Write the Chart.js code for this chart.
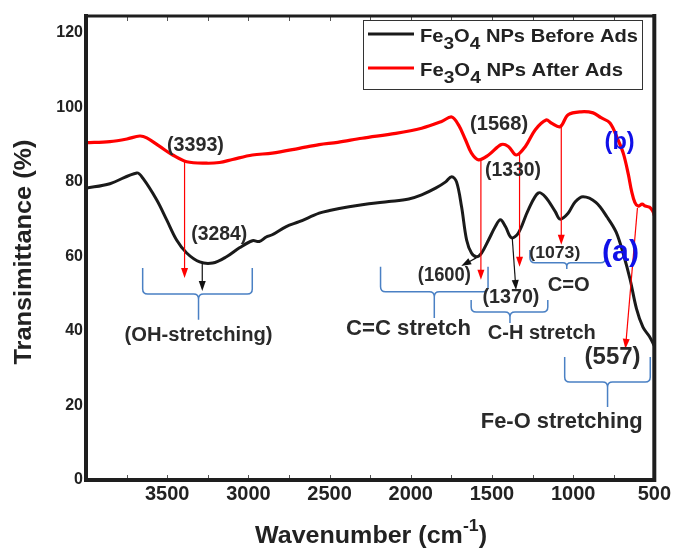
<!DOCTYPE html>
<html>
<head>
<meta charset="utf-8">
<script src="https://cdn.jsdelivr.net/npm/chart.js@4/dist/chart.umd.min.js"></script>
<style>
  html, body { margin: 0; padding: 0; background: #fff; }
  #wrap { width: 673px; height: 550px; }
</style>
</head>
<body>
<div id="wrap"><canvas id="ftir" width="673" height="550"></canvas></div>
<script>
// FTIR spectra of Fe3O4 nanoparticles before and after adsorption
const beforeWavenumber = [4000, 3853, 3687, 3650, 3565, 3503, 3442, 3380, 3300, 3220, 3135, 3055, 2975, 2933, 2890, 2853, 2767, 2687, 2564, 2500, 2380, 2258, 2135, 2012, 1933, 1847, 1785, 1748, 1718, 1687, 1656, 1626, 1595, 1564, 1521, 1479, 1448, 1417, 1380, 1337, 1276, 1215, 1172, 1110, 1080, 1031, 988, 939, 860, 790, 735, 690, 650, 610, 570, 530, 500];
const beforeT = [78.3, 79.5, 82.4, 81.0, 75.2, 69.8, 64.4, 60.9, 58.5, 58.2, 59.9, 62.3, 64.2, 64.0, 65.2, 65.8, 68.0, 69.3, 71.6, 72.3, 73.3, 74.1, 74.7, 75.4, 76.5, 78.3, 80.0, 81.4, 80.0, 73.3, 64.4, 60.9, 59.9, 60.9, 64.4, 68.0, 69.8, 68.0, 65.0, 66.3, 72.5, 77.0, 76.0, 72.0, 70.0, 71.6, 74.6, 76.0, 74.5, 70.5, 66.5, 60.5, 54.0, 46.0, 41.0, 38.5, 36.0];

const afterWavenumber = [4000, 3853, 3748, 3669, 3626, 3546, 3466, 3380, 3258, 3178, 3098, 2975, 2853, 2687, 2564, 2450, 2300, 2092, 1933, 1810, 1748, 1705, 1663, 1626, 1583, 1521, 1442, 1399, 1350, 1294, 1233, 1166, 1135, 1080, 1031, 951, 877, 828, 773, 724, 690, 660, 640, 620, 600, 575, 555, 530, 510, 500];
const afterT = [90.5, 90.8, 91.5, 92.3, 91.8, 89.5, 87.2, 85.4, 85.0, 85.2, 86.0, 87.2, 87.7, 89.0, 90.0, 90.6, 91.7, 93.0, 94.4, 96.2, 97.4, 95.2, 91.3, 87.7, 85.9, 87.2, 90.0, 89.5, 87.2, 89.5, 94.0, 96.6, 95.8, 94.8, 98.0, 98.8, 98.5, 97.2, 95.8, 91.3, 87.5, 82.0, 77.5, 74.5, 73.5, 74.0, 73.5, 73.2, 72.2, 71.0];

const xTickLabels = [3500, 3000, 2500, 2000, 1500, 1000, 500];
const yTickLabels = [0, 20, 40, 60, 80, 100, 120];

const seriesNames = ['Before Ads', 'After Ads'];

// peak markers: arrow from -> to, in (wavenumber, transmittance)
const peakArrows = [
  { from: [3393, 85.4], to: [3393, 54.2], color: '#ff0000' },
  { from: [3284, 58.2], to: [3284, 50.7], color: '#111111' },
  { from: [1597, 59.6], to: [1689, 57.4], color: '#111111' },
  { from: [1568, 85.9], to: [1568, 53.7], color: '#ff0000' },
  { from: [1330, 87.2], to: [1330, 57.2], color: '#ff0000' },
  { from: [1375, 65.0], to: [1352, 51.0], color: '#111111' },
  { from: [1073, 94.8], to: [1073, 63.1], color: '#ff0000' },
  { from: [604, 73.0], to: [678, 35.2], color: '#ff0000' }
];

// band groupings: left/right wavenumber, end height, bar height, tip height, centre
const bandBraces = [
  { left: 3651, right: 2976, centre: 3307, top: 56.9, bar: 49.9, tip: 43.0 },
  { left: 2186, right: 1524, centre: 1855, top: 57.2, bar: 50.5, tip: 43.5 },
  { left: 1628, right: 1156, centre: 1389, top: 48.3, bar: 45.1, tip: 42.1 },
  { left: 1266, right: 800, centre: 1039, top: 61.7, bar: 58.3, tip: 56.6 },
  { left: 1052, right: 525, centre: 788, top: 33.0, bar: 26.3, tip: 19.6 }
];

const peakLabels = [
  { text: '(3393)', at: [3326, 89.7], size: 21, width: 57 },
  { text: '(3284)', at: [3179, 66.0], size: 21, width: 56 },
  { text: '(1568)', at: [1456, 95.6], size: 21, width: 58 },
  { text: '(1330)', at: [1370, 83.2], size: 21, width: 56 },
  { text: '(1073)', at: [1113, 60.7], size: 17, width: 51 },
  { text: '(1600)', at: [1793, 54.8], size: 20, width: 53 },
  { text: '(1370)', at: [1383, 49.1], size: 21, width: 57 },
  { text: 'C=O', at: [1027, 52.3], size: 21, width: 42 },
  { text: 'C=C stretch', at: [2014, 40.5], size: 22, width: 125 },
  { text: 'C-H stretch', at: [1193, 39.2], size: 20, width: 108 },
  { text: '(557)', at: [757, 32.8], size: 24, width: 56 },
  { text: 'Fe-O stretching', at: [1070, 15.6], size: 22, width: 162 },
  { text: '(OH-stretching)', at: [3307, 38.9], size: 20, width: 148 },
  { text: '(b)', at: [714, 90.5], size: 24, width: 30, color: '#1010e8' },
  { text: '(a)', at: [708, 60.9], size: 30, width: 37, color: '#1010e8' }
];

const FONT = '"Liberation Sans", Arial, Helvetica, sans-serif';
const INK = '#222222';

function drawScaledText(ctx, s, x, y, size, color, targetW, align) {
  ctx.save();
  ctx.font = 'bold ' + size + 'px ' + FONT;
  const w = ctx.measureText(s).width;
  const sx = targetW ? targetW / w : 1;
  ctx.translate(x, y);
  ctx.scale(sx, 1);
  ctx.fillStyle = color || INK;
  ctx.textAlign = align || 'center';
  ctx.textBaseline = 'middle';
  ctx.fillText(s, 0, 0);
  ctx.restore();
}

// rich text: segments [{t, sub, sup}], drawn left-to-right from x at baseline y
function drawRich(ctx, segs, x, y, size, smallSize, targetW, shiftSub, shiftSup) {
  ctx.save();
  let natural = 0;
  segs.forEach(g => {
    ctx.font = 'bold ' + ((g.sub || g.sup) ? smallSize : size) + 'px ' + FONT;
    natural += ctx.measureText(g.t).width;
  });
  const sx = targetW ? targetW / natural : 1;
  ctx.translate(x, y);
  ctx.scale(sx, 1);
  ctx.fillStyle = INK;
  ctx.textBaseline = 'alphabetic';
  ctx.textAlign = 'left';
  let cx = 0;
  segs.forEach(g => {
    ctx.font = 'bold ' + ((g.sub || g.sup) ? smallSize : size) + 'px ' + FONT;
    const dy = g.sub ? shiftSub : (g.sup ? -shiftSup : 0);
    ctx.fillText(g.t, cx, dy);
    cx += ctx.measureText(g.t).width;
  });
  ctx.restore();
  return natural * sx;
}

function arrow(ctx, x1, y1, x2, y2, color) {
  const ang = Math.atan2(y2 - y1, x2 - x1);
  const len = 10, half = 3.5;
  ctx.save();
  ctx.strokeStyle = color;
  ctx.fillStyle = color;
  ctx.lineWidth = 1.2;
  ctx.beginPath();
  ctx.moveTo(x1, y1);
  ctx.lineTo(x2 - Math.cos(ang) * len * 0.8, y2 - Math.sin(ang) * len * 0.8);
  ctx.stroke();
  ctx.beginPath();
  ctx.moveTo(x2, y2);
  ctx.lineTo(x2 - Math.cos(ang) * len - Math.sin(ang) * half, y2 - Math.sin(ang) * len + Math.cos(ang) * half);
  ctx.lineTo(x2 - Math.cos(ang) * len + Math.sin(ang) * half, y2 - Math.sin(ang) * len - Math.cos(ang) * half);
  ctx.closePath();
  ctx.fill();
  ctx.restore();
}

function brace(ctx, xL, xR, xC, yTop, yBar, yTip) {
  const r = Math.min(5, (yBar - yTop) * 0.6);
  const rc = Math.min(5, (yTip - yBar) * 0.6);
  ctx.save();
  ctx.strokeStyle = '#4a80c4';
  ctx.lineWidth = 1.5;
  ctx.beginPath();
  ctx.moveTo(xL, yTop);
  ctx.lineTo(xL, yBar - r);
  ctx.quadraticCurveTo(xL, yBar, xL + r, yBar);
  ctx.lineTo(xC - rc, yBar);
  ctx.quadraticCurveTo(xC, yBar, xC, yBar + rc);
  ctx.lineTo(xC, yTip);
  ctx.moveTo(xC, yBar + rc);
  ctx.quadraticCurveTo(xC, yBar, xC + rc, yBar);
  ctx.lineTo(xR - r, yBar);
  ctx.quadraticCurveTo(xR, yBar, xR, yBar - r);
  ctx.lineTo(xR, yTop);
  ctx.stroke();
  ctx.restore();
}

const decorations = {
  id: 'ftirDecorations',
  afterDraw(chart) {
    const ctx = chart.ctx;
    const xs = chart.scales.x, ys = chart.scales.y;
    const a = chart.chartArea;
    const px = w => xs.getPixelForValue(w);
    const py = t => ys.getPixelForValue(t);

    // inward minor ticks along top and bottom
    ctx.save();
    ctx.strokeStyle = '#555';
    ctx.lineWidth = 1;
    for (let w = 750; w < 4000; w += 250) {
      const x = Math.round(px(w)) + 0.5;
      ctx.beginPath();
      ctx.moveTo(x, a.top); ctx.lineTo(x, a.top + 5);
      ctx.moveTo(x, a.bottom); ctx.lineTo(x, a.bottom - 5);
      ctx.stroke();
    }
    ctx.restore();

    // frame
    ctx.save();
    ctx.strokeStyle = '#1e1e1e';
    ctx.lineCap = 'square';
    ctx.lineWidth = 3;
    ctx.beginPath(); ctx.moveTo(a.left, a.top); ctx.lineTo(a.right, a.top); ctx.stroke();
    ctx.lineWidth = 4;
    ctx.beginPath(); ctx.moveTo(a.left, a.top); ctx.lineTo(a.left, a.bottom); ctx.lineTo(a.right, a.bottom); ctx.lineTo(a.right, a.top); ctx.stroke();
    ctx.restore();

    // band braces
    bandBraces.forEach(b => brace(ctx, px(b.left), px(b.right), px(b.centre), py(b.top), py(b.bar), py(b.tip)));

    // peak arrows
    peakArrows.forEach(p => arrow(ctx, px(p.from[0]), py(p.from[1]), px(p.to[0]), py(p.to[1]), p.color));

    // peak / band labels
    peakLabels.forEach(l => drawScaledText(ctx, l.text, px(l.at[0]), py(l.at[1]), l.size, l.color || '#2a2a2a', l.width));

    // legend
    ctx.save();
    ctx.strokeStyle = '#333';
    ctx.lineWidth = 1;
    ctx.strokeRect(363.5, 20.5, 279, 69);
    const colors = ['#1a1a1a', '#ff0000'];
    const targets = [218, 203];
    [34, 68].forEach((yy, i) => {
      ctx.strokeStyle = colors[i];
      ctx.lineWidth = 3;
      ctx.beginPath(); ctx.moveTo(368, yy); ctx.lineTo(414, yy); ctx.stroke();
      drawRich(ctx, [
        { t: 'Fe' }, { t: '3', sub: true }, { t: 'O' }, { t: '4', sub: true }, { t: ' NPs ' + seriesNames[i] }
      ], 420, yy + 8, 18, 17, targets[i], 7, 0);
    });
    ctx.restore();

    // axis titles
    drawRich(ctx, [{ t: 'Wavenumber (cm' }, { t: '-1', sup: true }, { t: ')' }], 255, 543, 24, 17, 232, 0, 12);
    ctx.save();
    ctx.translate(24, 252);
    ctx.rotate(-Math.PI / 2);
    drawScaledText(ctx, 'Transimittance (%)', 0, 0, 24, INK, 225);
    ctx.restore();
  }
};

const toPoints = (xs, ys) => xs.map((x, i) => ({ x: x, y: ys[i] }));

new Chart(document.getElementById('ftir'), {
  type: 'line',
  data: {
    datasets: [
      { label: 'Fe3O4 NPs ' + seriesNames[0], data: toPoints(beforeWavenumber, beforeT), borderColor: '#1a1a1a', borderWidth: 3, pointRadius: 0, tension: 0.35, fill: false },
      { label: 'Fe3O4 NPs ' + seriesNames[1], data: toPoints(afterWavenumber, afterT), borderColor: '#ff0000', borderWidth: 3.2, pointRadius: 0, tension: 0.35, fill: false }
    ]
  },
  options: {
    responsive: false,
    animation: false,
    devicePixelRatio: 1,
    layout: { padding: { top: 16, right: 16, left: 0, bottom: 0 } },
    plugins: { legend: { display: false }, tooltip: { enabled: false } },
    scales: {
      x: {
        type: 'linear',
        reverse: true,
        min: 500,
        max: 4000,
        grid: { display: false, drawTicks: false },
        border: { display: false },
        afterFit: s => { s.height = 70; },
        afterBuildTicks: s => { s.ticks = xTickLabels.map(v => ({ value: v })); },
        ticks: {
          autoSkip: false,
          maxRotation: 0,
          padding: 2,
          color: INK,
          font: { family: FONT, size: 20, weight: 'bold' },
          callback: v => String(v)
        }
      },
      y: {
        min: 0,
        max: 124.5,
        grid: { display: false, drawTicks: false },
        border: { display: false },
        afterFit: s => { s.width = 86; },
        afterBuildTicks: s => { s.ticks = yTickLabels.map(v => ({ value: v })); },
        ticks: {
          padding: 3,
          color: INK,
          font: { family: FONT, size: 16, weight: 'bold' },
          callback: v => String(v)
        }
      }
    }
  },
  plugins: [decorations]
});
</script>
</body>
</html>
